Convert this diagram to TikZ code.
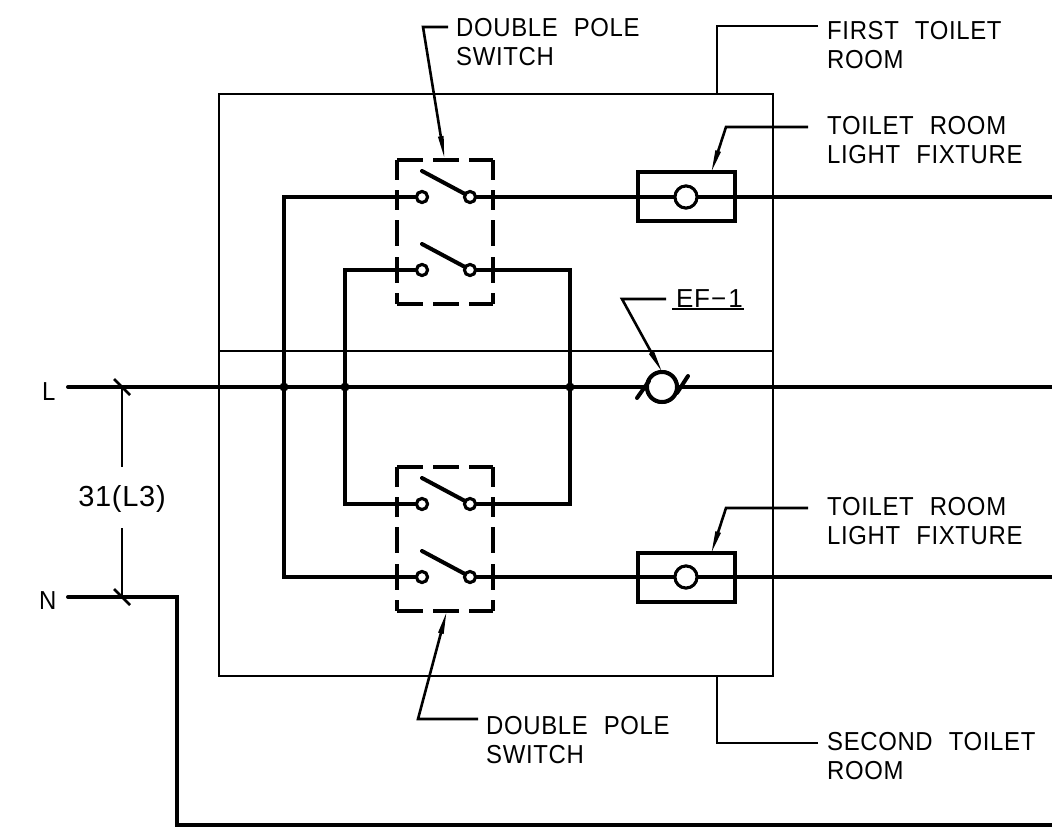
\documentclass[tikz,border=0pt]{standalone}
\usepackage{fontspec}
\setmainfont[LetterSpace=2.5,WordSpace=2.2,FakeStretch=0.92]{Liberation Sans}
\newfontfamily\widefont[LetterSpace=2.5]{Liberation Sans}
\usetikzlibrary{arrows.meta}
\tikzset{
  wire/.style={line width=4pt,line join=miter,line cap=round},
  thinline/.style={line width=2.8pt},
  leader/.style={line width=2.6pt,-{Stealth[length=24pt,width=5pt,inset=0pt]},shorten >=-4pt},
  leadertop/.style={line width=2.6pt},
  contact/.style={circle,draw,line width=3pt,fill=white,minimum size=11pt,inner sep=0pt},
  lamp/.style={circle,draw,line width=3pt,fill=white,minimum size=22pt,inner sep=0pt},
  fan/.style={circle,draw,line width=4pt,fill=white,minimum size=30pt,inner sep=0pt},
  fixture/.style={draw,line width=4pt,minimum width=97pt,minimum height=49pt,inner sep=0pt,outer sep=0pt},
  dot/.style={circle,fill=black,minimum size=9pt,inner sep=0pt},
  txt/.style={inner sep=0pt,anchor=north west,align=left,font=\fontsize{26}{29.5}\selectfont},
  lbl/.style={inner sep=0pt,anchor=base west,font=\fontsize{26}{29.5}\selectfont},
  widelbl/.style={inner sep=0pt,anchor=base,font=\widefont\fontsize{29}{30}\selectfont},
  dashH/.style={line width=4pt,dash pattern=on 26pt off 10pt},
  dashV/.style={line width=4pt,dash pattern=on 20pt off 10pt on 20pt off 10pt on 26pt off 11pt on 26pt off 10pt on 12pt off 50pt},
  blade/.style={line width=4pt,line cap=round}
}
\begin{document}
\begin{tikzpicture}[x=1pt,y=-1pt]
\useasboundingbox (0,0) rectangle (1052,830);
% room
\node[draw,thinline,minimum width=554pt,minimum height=582pt,inner sep=0pt,outer sep=0pt,anchor=north west] (room) at (219,94) {};
\coordinate (divL) at (219,351);
\coordinate (divR) at (773,351);
\draw[thinline] (divL) -- (divR);
% coordinates
\coordinate (Lstart) at (68,387);
\coordinate (Lend) at (1052,387);
\coordinate (Nstart) at (68,597);
\coordinate (Nc1) at (177,597);
\coordinate (Nc2) at (177,825);
\coordinate (Nend) at (1052,825);
\coordinate (e1) at (1052,197);
\coordinate (e2) at (1052,577);
\coordinate (j1) at (284,387);
\coordinate (j2) at (345,387);
\coordinate (j3) at (570,387);
% fixtures
\node[fixture] (fx1) at (686.5,196.5) {};
\node[fixture] (fx2) at (686.5,577.5) {};
% contacts
\node[contact] (a1) at (422,197) {};
\node[contact] (b1) at (470,197) {};
\node[contact] (a2) at (422,270) {};
\node[contact] (b2) at (470,270) {};
\node[contact] (a3) at (422,504) {};
\node[contact] (b3) at (470,504) {};
\node[contact] (a4) at (422,577) {};
\node[contact] (b4) at (470,577) {};
\node[lamp] (lamp1) at (686,197) {};
\node[lamp] (lamp2) at (686,577) {};
\node[fan] (fan1) at (662,387) {};
% wires
\draw[wire] (Lstart) -- (fan1);
\draw[wire] (fan1) -- (Lend);
\draw[wire] (Nstart) -- (Nc1) -- (Nc2) -- (Nend);
\draw[wire] (a1) -| (j1) |- (a4);
\draw[wire] (b1) -- (lamp1) -- (e1);
\draw[wire] (b4) -- (lamp2) -- (e2);
\draw[wire] (a2) -| (j2) |- (a3);
\draw[wire] (b2) -| (j3) |- (b3);
\node[dot] (dj1) at (j1) {};
\node[dot] (dj2) at (j2) {};
\node[dot] (dj3) at (j3) {};
\node[contact] at (a1) {};
\node[contact] at (b1) {};
\node[contact] at (a2) {};
\node[contact] at (b2) {};
\node[contact] at (a3) {};
\node[contact] at (b3) {};
\node[contact] at (a4) {};
\node[contact] at (b4) {};
\node[lamp] at (lamp1) {};
\node[lamp] at (lamp2) {};
\node[fan] at (fan1) {};
% fan slashes
\coordinate (s1a) at (637,398); \coordinate (s1b) at (649,381);
\coordinate (s2a) at (677,393); \coordinate (s2b) at (688,376);
\draw[blade] (s1a) -- (s1b);
\draw[blade] (s2a) -- (s2b);
% blades
\foreach \yy/\n in {197/1,270/2,504/3,577/4}{
  \coordinate (bl\n a) at (422,\yy-26);
  \coordinate (bl\n b) at (465,\yy-3);
  \draw[blade] (bl\n a) -- (bl\n b);
}
% dashed switch boxes
\foreach \dy in {0,307}{
\begin{scope}[shift={(0,\dy)}]
  \draw[dashH] (397,160) -- (493,160);
  \draw[dashH] (397,304) -- (493,304);
  \draw[dashV] (397,160) -- (397,304);
  \draw[dashV] (493,160) -- (493,304);
\end{scope}}
% ticks and dimension
\coordinate (t1a) at (114,379); \coordinate (t1b) at (130,395);
\coordinate (t2a) at (114,589); \coordinate (t2b) at (130,605);
\draw[thinline] (t1a) -- (t1b);
\draw[thinline] (t2a) -- (t2b);
\node[widelbl] (dimlabel) at (122,506) {31(L3)};
\coordinate (dimT) at (122,387);
\coordinate (dimB) at (122,597);
\draw[thinline] (dimT) -- (122,467);
\draw[thinline] (122,528) -- (dimB);
\node[lbl] (Ltext) at (42,400) {L};
\node[lbl] (Ntext) at (39,609) {N};
% annotations
\node[txt] (dps1) at (456,18) {DOUBLE POLE\\SWITCH};
\node[txt] (ftr) at (827,21) {FIRST TOILET\\ROOM};
\node[txt] (lf1) at (827,116) {TOILET ROOM\\LIGHT FIXTURE};
\node[txt] (lf2) at (827,497) {TOILET ROOM\\LIGHT FIXTURE};
\node[txt] (dps2) at (486,716) {DOUBLE POLE\\SWITCH};
\node[txt] (str) at (827,732) {SECOND TOILET\\ROOM};
\node[lbl,font=\widefont\fontsize{26}{29.5}\selectfont] (ef) at (676,307) {EF\kern1pt−\kern2pt1};
\coordinate (ul1) at (672,309); \coordinate (ul2) at (744,309);
\draw[thinline] (ul1) -- (ul2);
% leaders
\coordinate (d1a) at (448,27); \coordinate (d1b) at (423,27); \coordinate (d1c) at (444,156);
\draw[leader] (d1a) -- (d1b) -- (d1c);
\coordinate (f1a) at (818,26); \coordinate (f1b) at (717,26); \coordinate (f1c) at (717,94);
\draw[leadertop] (f1a) -- (f1b) -- (f1c);
\coordinate (l1a) at (808,127); \coordinate (l1b) at (726,127); \coordinate (l1c) at (712,170);
\draw[leader] (l1a) -- (l1b) -- (l1c);
\coordinate (l2a) at (808,508); \coordinate (l2b) at (726,508); \coordinate (l2c) at (712,551);
\draw[leader] (l2a) -- (l2b) -- (l2c);
\coordinate (e1a) at (666,299); \coordinate (e1b) at (622,299); \coordinate (e1c) at (661,370);
\draw[leader] (e1a) -- (e1b) -- (e1c);
\coordinate (d2a) at (478,719); \coordinate (d2b) at (418,719); \coordinate (d2c) at (446,614);
\draw[leader] (d2a) -- (d2b) -- (d2c);
\coordinate (s2x) at (818,743); \coordinate (s2y) at (717,743); \coordinate (s2z) at (717,676);
\draw[leadertop] (s2x) -- (s2y) -- (s2z);
\end{tikzpicture}
\end{document}
